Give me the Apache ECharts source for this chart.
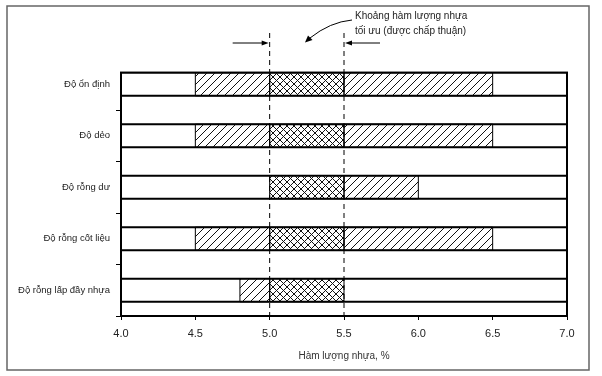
<!doctype html>
<html>
<head>
<meta charset="UTF-8">
<title>Hàm lượng nhựa tối ưu</title>
<script src="https://cdn.jsdelivr.net/npm/echarts@6/dist/echarts.min.js"></script>
<style>
*{margin:0;padding:0;}
html,body{width:602px;height:376px;background:#fff;}
#main{width:602px;height:376px;}
</style>
</head>
<body>
<div id="main"></div>
<script>
// tiêu chí
var categories = ['Độ ổn định', 'Độ dẻo', 'Độ rỗng dư', 'Độ rỗng cốt liệu', 'Độ rỗng lấp đầy nhựa'];
// khoảng hàm lượng nhựa đạt yêu cầu của từng tiêu chí
var rangeLow = [4.5, 4.5, 5.0, 4.5, 4.8];
var rangeHigh = [6.5, 6.5, 6.0, 6.5, 5.5];
// khoảng tối ưu (được chấp thuận)
var optLow = 5.0;
var optHigh = 5.5;
var xTicks = [4.0, 4.5, 5.0, 5.5, 6.0, 6.5, 7.0];

var font = '"Liberation Sans", Arial, sans-serif';

function makeTile(cross) {
	var s = cross ? 7 : 8;
	var c = document.createElement('canvas');
	c.width = s; c.height = s;
	var g = c.getContext('2d');
	g.strokeStyle = '#111';
	g.lineWidth = 1;
	g.beginPath();
	g.moveTo(0, s); g.lineTo(s, 0);
	g.moveTo(-1, 1); g.lineTo(1, -1);
	g.moveTo(s - 1, s + 1); g.lineTo(s + 1, s - 1);
	if (cross) {
		g.moveTo(0, 0); g.lineTo(s, s);
		g.moveTo(-1, s - 1); g.lineTo(1, s + 1);
		g.moveTo(s - 1, -1); g.lineTo(s + 1, 1);
	}
	g.stroke();
	return c;
}
var diagFill = { image: makeTile(false), repeat: 'repeat' };
var crossFill = { image: makeTile(true), repeat: 'repeat' };

// chia mỗi khoảng thành đoạn gạch chéo và đoạn gạch ô (phần giao với khoảng tối ưu)
var segs = [];
categories.forEach(function (c, i) {
	var lo = rangeLow[i], hi = rangeHigh[i];
	if (lo < optLow) segs.push([i, lo, Math.min(hi, optLow), 0]);
	var a = Math.max(lo, optLow), b = Math.min(hi, optHigh);
	if (b > a) segs.push([i, a, b, 1]);
	if (hi > optHigh) segs.push([i, Math.max(lo, optHigh), hi, 0]);
});
var boxes = categories.map(function (c, i) { return [i, xTicks[0], xTicks[xTicks.length - 1]]; });

var BAR = 0.45;
function rectOf(api) {
	var p0 = api.coord([api.value(1), api.value(0)]);
	var p1 = api.coord([api.value(2), api.value(0)]);
	var h = api.size([0, 1])[1] * BAR;
	return { x: p0[0], y: p0[1] - h / 2, width: p1[0] - p0[0], height: h };
}

var myChart = echarts.init(document.getElementById('main'));
var option = {
	animation: false,
	grid: { left: 121, right: 35, top: 58.5, bottom: 60 },
	xAxis: {
		type: 'value', min: 4, max: 7, interval: 0.5,
		name: 'Hàm lượng nhựa, %', nameLocation: 'middle', nameGap: 35,
		nameTextStyle: { fontFamily: font, fontSize: 10, color: '#333' },
		axisLine: { show: true, lineStyle: { color: '#000', width: 2 } },
		axisTick: { show: true, length: 4, lineStyle: { color: '#000' } },
		axisLabel: { fontFamily: font, fontSize: 11, color: '#222', margin: 12,
			formatter: function (v) { return v.toFixed(1); } },
		splitLine: { show: false }
	},
	yAxis: {
		type: 'category', data: categories, inverse: true,
		axisLine: { show: false },
		axisTick: { show: true, length: 5, inside: false, lineStyle: { color: '#000' },
			interval: function (i) { return i > 0 && i < categories.length; } },
		axisLabel: { fontFamily: font, fontSize: 9.5, color: '#222', margin: 11 }
	},
	series: [
		{
			type: 'custom', data: boxes, clip: false,
			renderItem: function (params, api) {
				return { type: 'rect', shape: rectOf(api),
					style: { fill: '#fff', stroke: '#000', lineWidth: 2 } };
			}
		},
		{
			type: 'custom', data: segs, clip: false,
			renderItem: function (params, api) {
				return { type: 'rect', shape: rectOf(api),
					style: { fill: api.value(3) ? crossFill : diagFill, stroke: '#000', lineWidth: 1 } };
			}
		}
	]
};
myChart.setOption(option);

// khung, đường nét đứt và chú thích
function px(v) { return myChart.convertToPixel({ xAxisIndex: 0 }, v); }
var yMid0 = myChart.convertToPixel({ yAxisIndex: 0 }, categories[0]);
var band = Math.abs(myChart.convertToPixel({ yAxisIndex: 0 }, categories[1]) - yMid0);
var plotTop = yMid0 - band * BAR / 2;
var plotBottom = 376 - 60;
var xL = px(4), xR = px(7), x5 = px(optLow), x55 = px(optHigh);
var dash = { stroke: '#000', lineWidth: 1, lineDash: [5, 4] };
myChart.setOption({
	graphic: [
		{ type: 'rect', shape: { x: 7, y: 6, width: 582, height: 364 },
			style: { fill: 'none', stroke: '#666', lineWidth: 1.5 } },
		{ type: 'rect', shape: { x: xL, y: plotTop, width: xR - xL, height: plotBottom - plotTop },
			style: { fill: 'none', stroke: '#000', lineWidth: 2 } },
		{ type: 'line', shape: { x1: x5, y1: 33, x2: x5, y2: plotBottom }, style: dash, z: 10 },
		{ type: 'line', shape: { x1: x55, y1: 33, x2: x55, y2: plotBottom }, style: dash, z: 10 },
		{ type: 'line', shape: { x1: x5 - 37, y1: 43, x2: x5 - 4, y2: 43 }, style: { stroke: '#000', lineWidth: 1 } },
		{ type: 'polygon', shape: { points: [[x5 - 1, 43], [x5 - 8, 40.5], [x5 - 8, 45.5]] }, style: { fill: '#000' } },
		{ type: 'line', shape: { x1: x55 + 36, y1: 43, x2: x55 + 4, y2: 43 }, style: { stroke: '#000', lineWidth: 1 } },
		{ type: 'polygon', shape: { points: [[x55 + 1, 43], [x55 + 8, 40.5], [x55 + 8, 45.5]] }, style: { fill: '#000' } },
		{ type: 'bezierCurve', shape: { x1: 352, y1: 20, cpx1: 330, cpy1: 22, x2: 310, y2: 38 },
			style: { stroke: '#000', lineWidth: 1, fill: 'none' } },
		{ type: 'polygon', shape: { points: [[305, 42.5], [308, 35.5], [312.5, 40]] }, style: { fill: '#000' } },
		{ type: 'text', x: 355, y: 11, style: { text: 'Khoảng hàm lượng nhựa', font: '10px ' + font, fill: '#222' } },
		{ type: 'text', x: 355, y: 26, style: { text: 'tối ưu (được chấp thuận)', font: '10px ' + font, fill: '#222' } }
	]
});
</script>
</body>
</html>
